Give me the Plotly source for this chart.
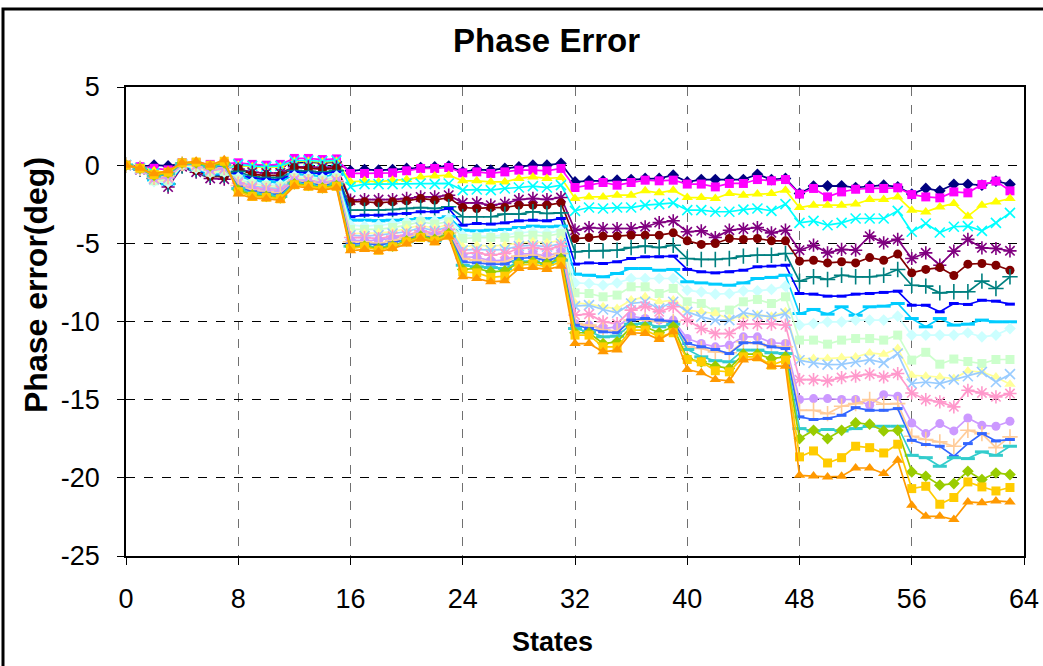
import plotly.graph_objects as go

states = list(range(64))

s_navy = [0, -0.1, 0.0, -0.05, 0.1, 0.1, -0.2, -0.15,
          0.0, -0.05, -0.1, -0.05, 0.15, 0.2, 0.15, 0.2,
          -0.36, -0.28, -0.32, -0.28, -0.21, -0.15, -0.11, -0.06, -0.43, -0.28, -0.32, -0.21, -0.11, 0.0, 0.0, 0.11,
          -1.07, -1.0, -1.0, -0.96, -0.92, -0.85, -0.85, -0.64, -1.07, -0.92, -0.92, -0.92, -0.92, -0.58, -0.92, -0.85,
          -1.81, -1.34, -1.32, -1.32, -1.43, -1.34, -1.28, -1.39, -1.85, -1.49, -1.64, -1.22, -1.22, -1.28, -1.02, -1.22]
s_magenta = [0, -0.1, -0.2, -0.3, 0.15, 0.15, 0.05, 0.1,
             0.15, 0.05, 0.0, 0.05, 0.43, 0.43, 0.36, 0.4,
             -0.53, -0.53, -0.53, -0.49, -0.36, -0.21, -0.21, -0.15, -0.49, -0.43, -0.53, -0.43, -0.32, -0.32, -0.36, -0.21,
             -1.43, -1.28, -1.11, -1.28, -1.11, -0.96, -1.0, -0.96, -1.21, -1.21, -1.39, -1.17, -1.17, -0.92, -1.0, -0.92,
             -1.85, -1.49, -2.03, -1.71, -1.54, -1.49, -1.49, -1.45, -1.88, -2.03, -2.09, -1.71, -1.77, -1.24, -1.02, -1.64]
s_yellow = [0, -0.15, -0.35, -0.5, 0.1, 0.05, -0.2, -0.1,
            0.0, -0.1, -0.15, -0.1, 0.25, 0.25, 0.2, 0.25,
            -1.07, -1.0, -1.07, -0.96, -0.92, -0.75, -0.7, -0.64, -1.0, -1.0, -1.07, -1.07, -0.85, -0.75, -0.85, -0.79,
            -2.13, -2.03, -2.03, -1.92, -1.92, -1.64, -1.77, -1.6, -2.07, -2.07, -2.13, -1.81, -1.92, -1.85, -1.81, -1.6,
            -2.71, -2.56, -2.56, -2.56, -2.49, -2.2, -2.2, -2.03, -2.88, -2.99, -2.67, -2.45, -3.26, -2.56, -2.35, -2.13]
s_cyan = [0, -0.2, -0.5, -0.8, 0.05, -0.1, -0.4, -0.3,
          0.05, -0.05, -0.1, -0.05, 0.3, 0.3, 0.25, 0.3,
          -1.39, -1.21, -1.21, -1.21, -1.17, -1.17, -1.21, -1.17, -1.6, -1.56, -1.6, -1.49, -1.43, -1.34, -1.43, -1.28,
          -2.92, -2.71, -2.77, -2.71, -2.71, -2.56, -2.49, -2.41, -2.88, -2.88, -2.98, -2.98, -2.84, -2.77, -2.92, -2.49,
          -3.69, -3.56, -3.84, -3.69, -3.41, -3.41, -3.41, -2.92, -4.26, -3.73, -4.31, -3.94, -3.9, -4.2, -3.69, -3.05]
s_purple = [0, -0.3, -0.9, -1.4, -0.1, -0.45, -0.85, -0.9,
            -0.25, -0.45, -0.5, -0.5, -0.1, -0.1, -0.15, -0.1,
            -2.24, -2.2, -2.2, -2.2, -2.13, -2.03, -2.03, -1.92, -2.41, -2.41, -2.56, -2.45, -2.2, -2.13, -2.2, -2.07,
            -4.16, -3.99, -4.05, -4.05, -4.05, -3.94, -3.67, -3.56, -4.26, -4.2, -4.63, -4.16, -4.09, -3.99, -4.33, -4.16,
            -5.44, -5.12, -5.61, -5.39, -5.44, -4.54, -4.97, -4.75, -5.97, -5.61, -6.4, -5.5, -4.75, -5.29, -5.33, -5.48]
s_darkred = [0, -0.25, -0.8, -1.2, -0.05, -0.35, -0.7, -0.75,
             -0.2, -0.6, -0.65, -0.65, -0.15, -0.2, -0.25, -0.2,
             -2.34, -2.34, -2.41, -2.34, -2.28, -2.13, -2.24, -2.07, -2.71, -2.77, -2.71, -2.71, -2.56, -2.56, -2.56, -2.41,
             -4.69, -4.63, -4.54, -4.54, -4.48, -4.48, -4.48, -4.33, -4.84, -5.07, -5.01, -4.69, -4.75, -4.69, -4.84, -4.84,
             -6.14, -6.08, -6.25, -6.18, -6.25, -5.91, -6.08, -5.69, -6.89, -6.67, -6.55, -7.06, -6.33, -6.29, -6.4, -6.72]
s_teal = [0, -0.25, -0.85, -1.2, -0.05, -0.3, -0.65, -0.65,
          -0.4, -0.75, -0.8, -0.8, -0.35, -0.4, -0.45, -0.35,
          -2.88, -2.88, -2.88, -2.84, -2.77, -2.71, -2.77, -2.66, -3.3, -3.3, -3.3, -3.13, -3.13, -2.98, -3.09, -3.05,
          -5.54, -5.48, -5.48, -5.44, -5.27, -5.18, -5.27, -5.12, -5.97, -6.03, -6.03, -5.97, -5.82, -5.76, -5.76, -5.65,
          -7.42, -7.14, -7.31, -7.04, -7.14, -7.14, -7.04, -6.67, -7.68, -7.74, -8.17, -8.1, -8.1, -7.42, -7.89, -7.14]
s_blue = [0, -0.25, -0.9, -1.25, -0.05, -0.3, -0.6, -0.6,
          -0.55, -0.85, -0.9, -0.95, -0.45, -0.5, -0.55, -0.45,
          -3.3, -3.2, -3.2, -3.13, -3.09, -2.98, -2.98, -2.77, -3.84, -3.73, -3.77, -3.69, -3.56, -3.52, -3.56, -3.41,
          -6.33, -6.25, -6.29, -6.18, -5.97, -5.86, -5.86, -5.82, -6.67, -6.82, -6.89, -6.82, -6.72, -6.5, -6.46, -6.4,
          -8.21, -8.25, -8.38, -8.38, -8.25, -8.21, -8.14, -8.06, -8.96, -8.96, -9.38, -8.85, -8.91, -8.64, -8.7, -8.89]
s_sky = [0, -0.25, -0.95, -1.2, -0.05, -0.25, -0.55, -0.55,
         -0.7, -1.0, -1.05, -1.1, -0.6, -0.65, -0.75, -0.6,
         -3.52, -3.52, -3.56, -3.52, -3.48, -3.41, -3.41, -3.3, -4.16, -4.2, -4.16, -4.11, -3.99, -3.9, -3.94, -3.9,
         -6.97, -7.04, -7.14, -6.93, -6.61, -6.61, -6.72, -6.67, -7.46, -7.53, -7.61, -7.68, -7.53, -7.25, -7.18, -7.04,
         -9.49, -9.23, -9.53, -9.06, -9.6, -9.06, -9.02, -8.85, -9.81, -10.34, -9.81, -10.23, -10.17, -9.91, -10.02, -10.02]
s_lightcyan = [0, -0.25, -1.05, -1.1, 0.0, -0.2, -0.5, -0.45,
               -0.8, -1.1, -1.2, -1.25, -0.7, -0.75, -0.85, -0.7,
               -3.84, -3.9, -3.84, -3.77, -3.62, -3.52, -3.56, -3.41, -4.48, -4.54, -4.54, -4.48, -4.33, -4.26, -4.33, -4.2,
               -7.53, -7.57, -7.68, -7.53, -7.25, -7.25, -7.25, -7.25, -7.99, -8.1, -8.25, -8.21, -8.04, -8.04, -7.95, -7.74,
               -10.23, -10.13, -10.02, -10.02, -9.91, -9.91, -9.91, -9.66, -10.87, -10.87, -10.87, -10.87, -10.72, -10.98, -10.87, -10.45]
s_lightgreen = [0, -0.25, -1.0, -1.0, 0.0, -0.15, -0.45, -0.4,
                -0.9, -1.2, -1.3, -1.35, -0.8, -0.85, -0.95, -0.8,
                -4.11, -4.11, -4.11, -3.99, -3.84, -3.62, -3.77, -3.62, -4.69, -4.63, -4.63, -4.63, -4.54, -4.48, -4.54, -4.37,
                -8.17, -8.21, -8.42, -8.31, -7.78, -7.78, -8.21, -7.89, -8.74, -8.85, -9.38, -9.27, -8.74, -8.59, -8.85, -8.42,
                -11.19, -11.19, -11.45, -11.19, -11.09, -11.09, -11.19, -10.87, -12.47, -11.97, -12.73, -12.4, -12.56, -12.69, -12.43, -12.43]
s_lightyellow = [0, -0.25, -0.95, -0.9, 0.05, -0.1, -0.4, -0.3,
                 -1.0, -1.3, -1.4, -1.45, -0.85, -0.9, -1.05, -0.9,
                 -4.37, -4.37, -4.33, -4.26, -4.05, -3.84, -4.05, -3.77, -5.22, -5.12, -5.18, -5.12, -4.97, -4.9, -4.97, -4.8,
                 -8.8, -8.89, -9.06, -9.17, -8.63, -8.42, -8.74, -8.63, -9.27, -9.38, -9.49, -9.81, -9.66, -9.59, -9.66, -9.38,
                 -12.37, -12.37, -12.37, -12.31, -12.27, -12.01, -12.1, -11.73, -13.44, -13.5, -13.55, -13.65, -13.16, -13.23, -13.55, -14.01]
s_paleblue = [0, -0.25, -0.9, -0.85, 0.05, -0.05, -0.35, -0.25,
              -1.05, -1.35, -1.45, -1.5, -0.9, -0.95, -1.1, -0.95,
              -4.48, -4.54, -4.48, -4.37, -4.26, -3.99, -4.2, -3.94, -5.44, -5.39, -5.44, -5.39, -5.18, -5.12, -5.22, -5.01,
              -9.02, -8.95, -9.23, -9.44, -8.85, -8.74, -9.17, -8.74, -9.38, -9.7, -9.91, -9.91, -9.44, -9.59, -9.7, -9.49,
              -12.48, -12.65, -12.76, -12.74, -12.59, -12.44, -12.65, -12.05, -13.97, -13.87, -13.97, -13.72, -13.5, -13.23, -13.87, -13.37]
s_rose = [0, -0.25, -0.85, -0.8, 0.05, 0.0, -0.3, -0.2,
          -1.15, -1.45, -1.55, -1.6, -0.95, -1.0, -1.15, -1.0,
          -4.63, -4.63, -4.69, -4.54, -4.48, -4.2, -4.33, -4.11, -5.65, -5.61, -5.76, -5.65, -5.33, -5.27, -5.39, -5.18,
          -9.59, -9.53, -10.02, -10.13, -9.27, -9.02, -9.38, -9.06, -9.91, -10.45, -10.77, -10.77, -10.17, -10.17, -10.17, -10.23,
          -13.72, -13.72, -13.8, -13.59, -13.5, -13.37, -13.55, -13.33, -14.57, -15.0, -15.14, -15.46, -14.4, -14.57, -14.82, -14.61]
s_lavender = [0, -0.25, -0.8, -0.7, 0.1, 0.05, -0.25, -0.1,
              -1.25, -1.55, -1.65, -1.7, -1.0, -1.05, -1.2, -1.05,
              -4.8, -4.84, -4.8, -4.69, -4.54, -4.26, -4.48, -4.26, -5.86, -5.9, -6.12, -6.08, -5.69, -5.65, -5.82, -5.54,
              -10.13, -10.23, -10.45, -10.34, -9.66, -9.81, -9.91, -9.91, -11.09, -11.41, -11.62, -11.51, -10.98, -10.98, -11.36, -11.41,
              -14.99, -14.93, -14.93, -14.99, -14.99, -15.36, -14.68, -14.78, -16.49, -17.17, -16.53, -17.0, -16.17, -16.64, -16.7, -16.38]
s_tan = [0, -0.2, -0.75, -0.65, 0.1, 0.05, -0.2, -0.05,
         -1.3, -1.6, -1.7, -1.8, -1.05, -1.1, -1.25, -1.1,
         -4.9, -4.9, -5.01, -4.84, -4.63, -4.37, -4.58, -4.33, -5.97, -6.08, -6.18, -6.18, -5.82, -5.76, -5.97, -5.65,
         -10.13, -10.23, -10.55, -10.6, -9.91, -9.91, -10.02, -10.02, -11.62, -11.73, -11.94, -12.0, -11.3, -11.41, -11.58, -11.62,
         -15.68, -15.68, -15.89, -15.42, -15.25, -14.99, -15.29, -15.25, -17.34, -17.55, -17.7, -17.98, -16.96, -17.17, -18.07, -17.38]
s_royal = [0, -0.2, -0.7, -0.6, 0.1, 0.1, -0.15, 0.0,
           -1.4, -1.7, -1.8, -1.9, -1.1, -1.15, -1.3, -1.15,
           -5.05, -5.01, -5.12, -4.97, -4.75, -4.48, -4.69, -4.41, -6.18, -6.25, -6.33, -6.33, -5.97, -5.9, -6.12, -5.82,
           -10.23, -10.45, -10.66, -10.72, -9.91, -9.81, -9.91, -10.02, -11.41, -11.62, -11.79, -12.05, -11.36, -11.36, -11.62, -11.73,
           -16.1, -16.27, -16.2, -16.0, -15.51, -15.68, -15.68, -15.57, -17.6, -17.87, -17.98, -18.62, -17.81, -17.17, -17.64, -17.55]
s_aqua = [0, -0.2, -0.7, -0.55, 0.1, 0.1, -0.1, 0.05,
          -1.5, -1.8, -1.9, -2.0, -1.15, -1.25, -1.4, -1.2,
          -5.18, -5.18, -5.27, -5.12, -4.9, -4.63, -4.84, -4.54, -6.4, -6.5, -6.55, -6.61, -6.18, -6.18, -6.33, -6.08,
          -10.45, -10.66, -10.98, -10.94, -10.17, -10.13, -10.34, -10.17, -11.79, -12.26, -12.51, -12.58, -11.83, -11.83, -12.0, -12.05,
          -16.85, -17.0, -16.91, -17.0, -16.85, -16.7, -16.7, -16.7, -18.56, -18.71, -19.26, -18.71, -18.77, -18.34, -18.56, -17.98]
s_lime = [0, -0.2, -0.65, -0.5, 0.15, 0.15, -0.05, 0.15,
          -1.6, -1.9, -2.0, -2.1, -1.2, -1.3, -1.45, -1.3,
          -5.22, -5.18, -5.33, -5.18, -4.84, -4.54, -4.75, -4.37, -6.67, -6.61, -6.82, -6.76, -6.25, -6.18, -6.29, -5.97,
          -10.72, -10.72, -11.41, -11.3, -10.34, -10.34, -10.72, -10.34, -12.37, -12.58, -12.86, -13.0, -12.09, -12.09, -12.37, -12.26,
          -17.49, -16.96, -17.49, -16.96, -16.49, -16.57, -17.0, -16.96, -19.62, -19.9, -20.47, -20.37, -19.58, -20.11, -19.69, -19.79]
s_gold = [0, -0.2, -0.6, -0.45, 0.15, 0.2, 0.0, 0.25,
          -1.7, -2.0, -2.05, -2.15, -1.25, -1.35, -1.5, -1.35,
          -5.33, -5.22, -5.44, -5.22, -4.9, -4.63, -4.84, -4.48, -6.82, -6.89, -7.18, -7.1, -6.4, -6.33, -6.5, -6.18,
          -10.87, -10.87, -11.62, -11.62, -10.55, -10.55, -10.98, -10.72, -12.43, -12.58, -13.15, -13.22, -12.26, -12.26, -12.79, -12.47,
          -18.66, -18.28, -19.05, -18.71, -17.98, -18.07, -18.41, -17.85, -20.69, -20.54, -21.69, -21.26, -20.26, -20.58, -20.84, -20.62]
s_orange = [0, -0.2, -0.55, -0.35, 0.15, 0.25, 0.0, 0.35,
            -1.85, -2.1, -2.15, -2.25, -1.35, -1.45, -1.6, -1.45,
            -5.48, -5.39, -5.54, -5.33, -5.05, -4.69, -4.97, -4.58, -7.14, -7.25, -7.46, -7.4, -6.61, -6.55, -6.67, -6.46,
            -11.41, -11.41, -11.94, -11.83, -10.72, -10.76, -11.15, -10.66, -13.07, -13.28, -13.71, -13.79, -12.47, -12.37, -12.86, -12.86,
            -19.84, -19.88, -19.94, -19.9, -19.37, -19.37, -19.73, -18.88, -21.75, -22.46, -22.46, -22.67, -21.54, -21.6, -21.48, -21.54]

x_ticks = [0, 8, 16, 24, 32, 40, 48, 56, 64]
y_ticks = [5, 0, -5, -10, -15, -20, -25]

series = [
    (s_navy, "#000080", "diamond", 9),
    (s_magenta, "#FF00FF", "square", 9),
    (s_yellow, "#FFFF00", "triangle-up", 10),
    (s_cyan, "#00FFFF", "x-thin-open", 10),
    (s_purple, "#800080", "asterisk-open", 11),
    (s_darkred, "#800000", "circle", 9),
    (s_teal, "#008080", "cross-thin-open", 11),
    (s_blue, "#0000FF", "line-ew-open", 7),
    (s_sky, "#00CCFF", "line-ew-open", 10),
    (s_lightcyan, "#CCFFFF", "diamond", 9),
    (s_lightgreen, "#CCFFCC", "square", 9),
    (s_lightyellow, "#FFFF99", "triangle-up", 10),
    (s_paleblue, "#99CCFF", "x-thin-open", 10),
    (s_rose, "#FF99CC", "asterisk-open", 11),
    (s_lavender, "#CC99FF", "circle", 9),
    (s_tan, "#FFCC99", "cross-thin-open", 11),
    (s_royal, "#3366FF", "line-ew-open", 7),
    (s_aqua, "#33CCCC", "line-ew-open", 10),
    (s_lime, "#99CC00", "diamond", 9),
    (s_gold, "#FFCC00", "square", 9),
    (s_orange, "#FF9900", "triangle-up", 10),
]

fig = go.Figure()
for vals, col, sym, sz in series:
    open_sym = sym.endswith("open")
    marker = dict(symbol=sym, size=sz, color=col,
                  line=dict(color=col, width=3 if sym.startswith("line") else (1.6 if open_sym else 0)))
    fig.add_trace(go.Scatter(x=states, y=vals, mode="lines+markers",
                             line=dict(color=col, width=1.7), marker=marker,
                             showlegend=False))

FONT = "Liberation Sans, Arial, sans-serif"
fig.update_layout(
    width=1043, height=666,
    margin=dict(l=126, r=19, t=87, b=110, autoexpand=False),
    paper_bgcolor="white", plot_bgcolor="white",
    font=dict(family=FONT, color="black", size=27),
)
fig.update_xaxes(range=[0, 64], tickvals=x_ticks, ticktext=[str(v) for v in x_ticks],
                 showline=True, linecolor="black", linewidth=1.5, mirror=True,
                 ticks="outside", ticklen=7, tickcolor="black", tickwidth=1,
                 showgrid=True, gridcolor="#707070", griddash="dash", gridwidth=1.3,
                 zeroline=False, ticklabelstandoff=11, automargin=False,
                 tickfont=dict(family=FONT, size=27))
fig.update_yaxes(range=[-25, 5], tickvals=y_ticks, ticktext=[str(v) for v in y_ticks],
                 showline=True, linecolor="black", linewidth=1.5, mirror=True,
                 ticks="outside", ticklen=7, tickcolor="black", tickwidth=1,
                 showgrid=True, gridcolor="black", griddash="dash", gridwidth=1,
                 zeroline=False, ticklabelstandoff=12, automargin=False,
                 tickfont=dict(family=FONT, size=27))

fig.add_annotation(text="<b>Phase Error</b>", xref="paper", yref="paper",
                   x=(546 - 126) / 898, y=(556 - 40) / 469, showarrow=False,
                   font=dict(family=FONT, size=33), xanchor="center", yanchor="middle")
fig.add_annotation(text="<b>States</b>", xref="paper", yref="paper",
                   x=(552 - 126) / 898, y=(556 - 642) / 469, showarrow=False,
                   font=dict(family=FONT, size=27), xanchor="center", yanchor="middle")
fig.add_annotation(text="<b>Phase error(deg)</b>", xref="paper", yref="paper",
                   x=(36 - 126) / 898, y=(556 - 285) / 469, showarrow=False, textangle=-90,
                   font=dict(family=FONT, size=32), xanchor="center", yanchor="middle")
fig.add_shape(type="rect", xref="paper", yref="paper",
              x0=(3 - 126) / 898, x1=(1100 - 126) / 898,
              y0=(556 - 700) / 469, y1=(556 - 9) / 469,
              line=dict(color="black", width=3), fillcolor="rgba(0,0,0,0)", layer="above")

fig.write_html("out.html")
